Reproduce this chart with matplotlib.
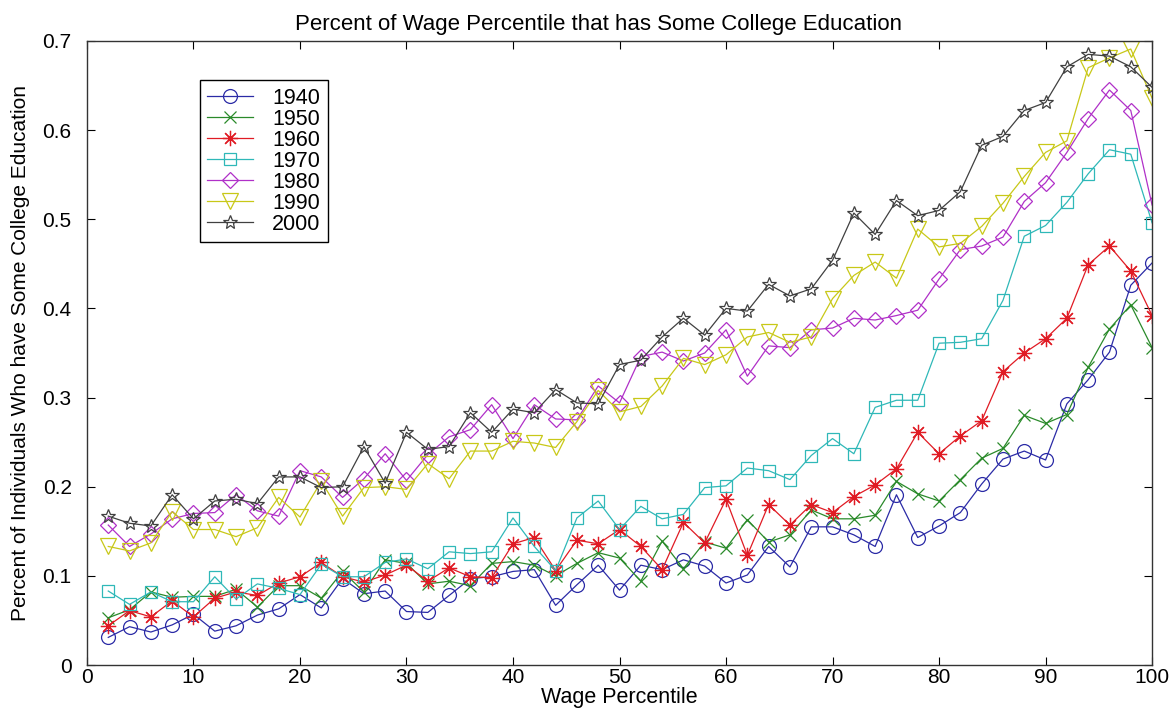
import matplotlib
matplotlib.use("Agg")
import matplotlib.pyplot as plt
import numpy as np

plt.rcParams['font.family'] = ['Liberation Sans', 'DejaVu Sans']

pct = list(range(2, 101, 2))

y1940 = [0.031, 0.043, 0.037, 0.045, 0.057, 0.038, 0.044, 0.056, 0.063, 0.079,
         0.064, 0.097, 0.080, 0.083, 0.060, 0.059, 0.078, 0.097, 0.099, 0.105,
         0.107, 0.067, 0.090, 0.112, 0.084, 0.112, 0.107, 0.118, 0.111, 0.092,
         0.101, 0.133, 0.110, 0.155, 0.155, 0.146, 0.133, 0.191, 0.143, 0.156,
         0.171, 0.203, 0.231, 0.240, 0.230, 0.293, 0.320, 0.351, 0.426, 0.451]
y1950 = [0.053, 0.062, 0.082, 0.076, 0.077, 0.077, 0.085, 0.065, 0.089, 0.089,
         0.075, 0.105, 0.082, 0.118, 0.114, 0.091, 0.094, 0.089, 0.114, 0.116,
         0.112, 0.100, 0.114, 0.126, 0.120, 0.094, 0.139, 0.108, 0.138, 0.131,
         0.163, 0.138, 0.146, 0.174, 0.164, 0.164, 0.168, 0.206, 0.192, 0.184,
         0.208, 0.232, 0.243, 0.280, 0.271, 0.281, 0.334, 0.377, 0.404, 0.356]
y1960 = [0.044, 0.061, 0.054, 0.072, 0.054, 0.075, 0.082, 0.078, 0.092, 0.099,
         0.115, 0.099, 0.093, 0.101, 0.112, 0.094, 0.109, 0.099, 0.098, 0.136,
         0.143, 0.106, 0.140, 0.136, 0.152, 0.133, 0.107, 0.160, 0.137, 0.186,
         0.123, 0.180, 0.157, 0.180, 0.171, 0.189, 0.202, 0.220, 0.261, 0.237,
         0.257, 0.274, 0.329, 0.350, 0.366, 0.389, 0.449, 0.470, 0.442, 0.392]
y1970 = [0.083, 0.068, 0.082, 0.071, 0.071, 0.099, 0.074, 0.091, 0.086, 0.079,
         0.113, 0.099, 0.099, 0.115, 0.119, 0.108, 0.127, 0.125, 0.127, 0.165,
         0.133, 0.106, 0.165, 0.184, 0.152, 0.178, 0.164, 0.169, 0.199, 0.201,
         0.221, 0.218, 0.208, 0.235, 0.254, 0.237, 0.289, 0.297, 0.297, 0.361,
         0.362, 0.366, 0.409, 0.481, 0.493, 0.519, 0.551, 0.578, 0.573, 0.496]
y1980 = [0.157, 0.133, 0.147, 0.164, 0.170, 0.171, 0.191, 0.173, 0.167, 0.218,
         0.211, 0.188, 0.209, 0.237, 0.207, 0.236, 0.256, 0.264, 0.292, 0.254,
         0.292, 0.276, 0.275, 0.313, 0.294, 0.346, 0.351, 0.341, 0.350, 0.376,
         0.324, 0.358, 0.356, 0.376, 0.378, 0.389, 0.387, 0.392, 0.398, 0.433,
         0.466, 0.470, 0.480, 0.520, 0.541, 0.575, 0.613, 0.645, 0.622, 0.516]
y1990 = [0.133, 0.128, 0.137, 0.172, 0.152, 0.152, 0.144, 0.154, 0.188, 0.166,
         0.206, 0.167, 0.199, 0.200, 0.197, 0.226, 0.209, 0.240, 0.240, 0.251,
         0.249, 0.244, 0.273, 0.308, 0.284, 0.290, 0.313, 0.344, 0.337, 0.348,
         0.368, 0.373, 0.362, 0.368, 0.411, 0.437, 0.452, 0.434, 0.489, 0.469,
         0.473, 0.492, 0.518, 0.548, 0.575, 0.588, 0.670, 0.681, 0.691, 0.636]
y2000 = [0.167, 0.159, 0.156, 0.191, 0.164, 0.184, 0.186, 0.181, 0.211, 0.211,
         0.199, 0.200, 0.245, 0.204, 0.261, 0.242, 0.245, 0.283, 0.261, 0.287,
         0.283, 0.309, 0.294, 0.293, 0.337, 0.342, 0.368, 0.389, 0.370, 0.400,
         0.397, 0.427, 0.414, 0.422, 0.454, 0.507, 0.483, 0.521, 0.504, 0.510,
         0.531, 0.583, 0.593, 0.622, 0.631, 0.671, 0.685, 0.683, 0.671, 0.648]

years = ['1940', '1950', '1960', '1970', '1980', '1990', '2000']
series = [y1940, y1950, y1960, y1970, y1980, y1990, y2000]
colors = ['#2b2ba6', '#2a8a2a', '#e01b24', '#2fb8b8', '#b030c8', '#c8c818', '#404040']
markers = ['o', 'x', (8, 2, 0), 's', 'D', 'v', '*']
msizes = [10, 8, 11, 9, 8, 11, 10]

fig = plt.figure(figsize=(11.72, 7.14), dpi=100)
ax = fig.add_axes([0.0742, 0.0686, 0.9088, 0.874])

for yr, ys, c, m, ms in zip(years, series, colors, markers, msizes):
    ax.plot(pct, ys, color=c, marker=m, markersize=ms, markerfacecolor='none',
            markeredgecolor=c, markeredgewidth=0.9, linewidth=0.9, label=yr)

ax.set_xlim(0, 100)
ax.set_ylim(0, 0.7)
ax.set_xticks(range(0, 101, 10))
ax.set_yticks(np.arange(0, 0.71, 0.1))
ax.set_yticklabels(['0', '0.1', '0.2', '0.3', '0.4', '0.5', '0.6', '0.7'])
ax.tick_params(direction='in', top=True, right=True, length=6, labelsize=15)
ax.tick_params(axis='y', pad=11)
ax.tick_params(axis='x', pad=2)
for s in ax.spines.values():
    s.set_linewidth(1.0)
    s.set_color('#333333')

ax.set_title('Percent of Wage Percentile that has Some College Education', fontsize=16, pad=8, x=0.48)
ax.set_xlabel('Wage Percentile', fontsize=15.5, labelpad=0)
ax.set_ylabel('Percent of Individuals Who have Some College Education', fontsize=15, labelpad=9)

leg = ax.legend(loc='upper left', bbox_to_anchor=(0.106, 0.9375), fontsize=15.5,
                frameon=True, fancybox=False, edgecolor='black', framealpha=1,
                handlelength=2.1, labelspacing=0.0, borderpad=0.35, handletextpad=0.9,
                borderaxespad=0)
leg.get_frame().set_linewidth(1.0)

fig.savefig('out.png', dpi=100)
